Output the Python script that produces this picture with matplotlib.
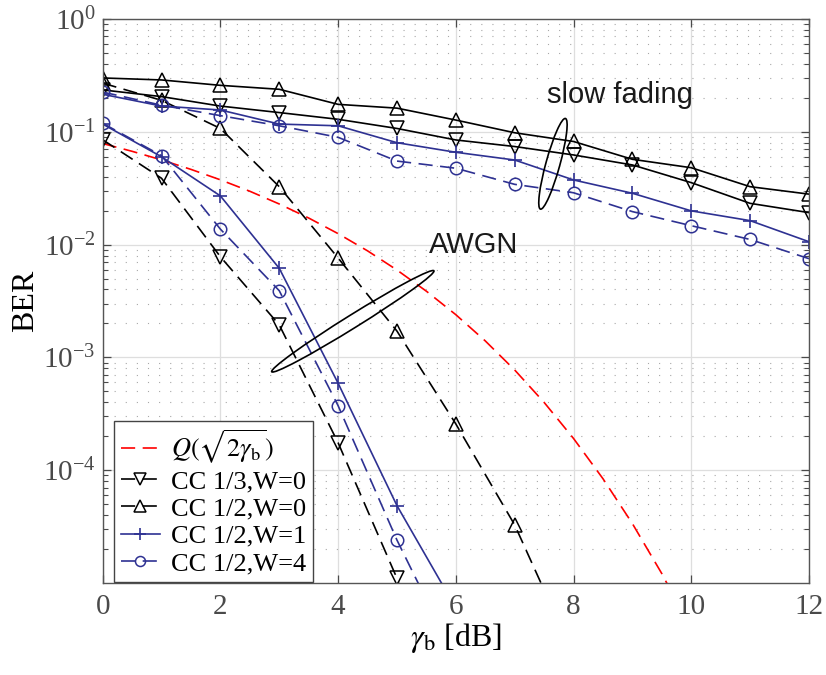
import matplotlib
matplotlib.use("Agg")
import matplotlib.pyplot as plt
from matplotlib.patches import Ellipse
from matplotlib.transforms import IdentityTransform
from matplotlib.ticker import LogLocator, FixedLocator, NullFormatter

plt.rcParams["font.family"] = ["Liberation Serif", "DejaVu Serif"]
plt.rcParams["mathtext.fontset"] = "stix"

# SNR grid [dB]
snr = [0, 1, 2, 3, 4, 5, 6, 7, 8, 9, 10, 11, 12]
snr_q = [0, 0.5, 1, 1.5, 2, 2.5, 3, 3.5, 4, 4.5, 5, 5.5, 6, 6.5, 7, 7.5,
         8, 8.5, 9, 9.5, 10]

# uncoded BPSK reference, Q(sqrt(2 gamma_b))
ber_q = [7.87e-2, 6.71e-2, 5.63e-2, 4.64e-2, 3.75e-2, 2.97e-2, 2.29e-2,
         1.72e-2, 1.25e-2, 8.80e-3, 5.95e-3, 3.86e-3, 2.39e-3, 1.40e-3,
         7.73e-4, 3.99e-4, 1.91e-4, 8.40e-5, 3.36e-5, 1.21e-5, 3.87e-6]

# AWGN channel
awgn_cc13_w0 = [0.085, 0.0387, 0.0078, 0.00194, 1.75e-4, 1.1e-5, 3e-7]
awgn_cc12_w0 = [0.27, 0.19, 0.107, 0.0326, 0.0076, 0.00171, 2.57e-4, 3.27e-5, 2.3e-6]
awgn_cc12_w1 = [0.117, 0.060, 0.027, 0.00616, 5.9e-4, 4.85e-5, 6e-6]
awgn_cc12_w4 = [0.119, 0.0614, 0.0137, 0.0039, 3.73e-4, 2.4e-5, 2.1e-6]

# slow fading channel
fad_cc13_w0 = [0.235, 0.205, 0.169, 0.148, 0.129, 0.107, 0.0846, 0.074,
               0.0623, 0.0508, 0.0354, 0.0232, 0.0192]
fad_cc12_w0 = [0.30, 0.288, 0.258, 0.238, 0.175, 0.162, 0.127, 0.098,
               0.082, 0.057, 0.048, 0.0326, 0.028]
fad_cc12_w1 = [0.215, 0.169, 0.156, 0.117, 0.113, 0.080, 0.0658, 0.0562,
               0.0374, 0.0285, 0.0199, 0.0163, 0.0106]
fad_cc12_w4 = [0.225, 0.172, 0.139, 0.113, 0.0893, 0.055, 0.0475, 0.0342,
               0.0288, 0.0196, 0.0147, 0.0111, 0.0075]

BLUE = "#2e3192"
TICK_GRAY = "#4a4a4a"
LW = 1.2
DASH = (8.5, 4.5)

fig = plt.figure(figsize=(8.26, 6.75), dpi=100)
ax = fig.add_axes([0.1243, 0.1363, 0.8551, 0.8356])

n13 = len(awgn_cc13_w0)
n12 = len(awgn_cc12_w0)
n1 = len(awgn_cc12_w1)
n4 = len(awgn_cc12_w4)

ax.plot(snr_q, ber_q, color="red", lw=LW, dashes=DASH, label=r"$Q(\sqrt{2\gamma_{\rm b}})$")

tri = dict(mfc="none", ms=10, mew=1.1)
ax.plot(snr[:n13], awgn_cc13_w0, color="black", lw=LW, dashes=DASH, marker="v", **tri,
        label="CC 1/3,W=0")
ax.plot(snr[:n12], awgn_cc12_w0, color="black", lw=LW, dashes=DASH, marker="^", **tri,
        label="CC 1/2,W=0")
ax.plot(snr[:n1], awgn_cc12_w1, color=BLUE, lw=LW, marker="+", ms=10, mew=1.2,
        label="CC 1/2,W=1")
ax.plot(snr[:n4], awgn_cc12_w4, color=BLUE, lw=LW, dashes=DASH, marker="o", mfc="none",
        ms=9, mew=1.1, label="CC 1/2,W=4")

ax.plot(snr, fad_cc13_w0, color="black", lw=LW, marker="v", **tri)
ax.plot(snr, fad_cc12_w0, color="black", lw=LW, marker="^", **tri)
ax.plot(snr, fad_cc12_w1, color=BLUE, lw=LW, marker="+", ms=10, mew=1.2)
ax.plot(snr, fad_cc12_w4, color=BLUE, lw=LW, dashes=DASH, marker="o", mfc="none",
        ms=9, mew=1.1)

ax.set_yscale("log")
ax.set_xlim(0, 12)
ax.set_ylim(1e-5, 1)
ax.xaxis.set_major_locator(FixedLocator([0, 2, 4, 6, 8, 10, 12]))
ax.yaxis.set_major_locator(FixedLocator([1e-4, 1e-3, 1e-2, 1e-1, 1]))
ax.yaxis.set_minor_locator(LogLocator(base=10, subs=range(2, 10), numticks=20))
ax.yaxis.set_minor_formatter(NullFormatter())

ax.grid(True, which="major", color="#dedede", lw=0.9, ls="-")
ax.grid(True, which="minor", axis="y", color="#a8a8a8", lw=0.8, ls=(0, (1, 9)))
ax.set_axisbelow(True)
ax.tick_params(which="both", direction="in", top=True, right=True, colors=TICK_GRAY,
               labelsize=21)
ax.tick_params(which="major", length=6, width=0.9)
ax.tick_params(which="minor", length=3.5, width=0.8)
ax.tick_params(axis="x", pad=8)
ax.tick_params(axis="y", pad=5)
for s in ax.spines.values():
    s.set_color("#555555")
    s.set_linewidth(1.0)

ax.set_xlabel(r"$\gamma_{\rm b}$ [dB]", fontsize=23, labelpad=1)
ax.set_ylabel("BER", fontsize=23, labelpad=2)

# annotation ellipses (sizes in pixels)
fig.canvas.draw()
cx, cy = ax.transData.transform((7.65, 0.052))
ax.add_patch(Ellipse((cx, cy), 94, 14, angle=74.6, transform=IdentityTransform(),
                     fill=False, ec="black", lw=1.2, zorder=5))
cx, cy = ax.transData.transform((4.25, 0.00209))
ax.add_patch(Ellipse((cx, cy), 191, 13, angle=31.9, transform=IdentityTransform(),
                     fill=False, ec="black", lw=1.2, zorder=5))

ax.text(8.79, 0.179, "slow fading", family="Liberation Sans", fontsize=21,
        ha="center", va="baseline", color="#1a1a1a")
ax.text(6.30, 0.00837, "AWGN", family="Liberation Sans", fontsize=21,
        ha="center", va="baseline", color="#1a1a1a")

leg = ax.legend(loc="lower left", bbox_to_anchor=(0.016, 0.002), borderaxespad=0,
                fontsize=19, handlelength=1.5, handletextpad=0.4, borderpad=0.25,
                labelspacing=0.15, markerscale=0.8, fancybox=False, framealpha=1)
leg.get_frame().set_edgecolor("#444444")
leg.get_frame().set_linewidth(1.0)

fig.savefig("out.png", dpi=100)
